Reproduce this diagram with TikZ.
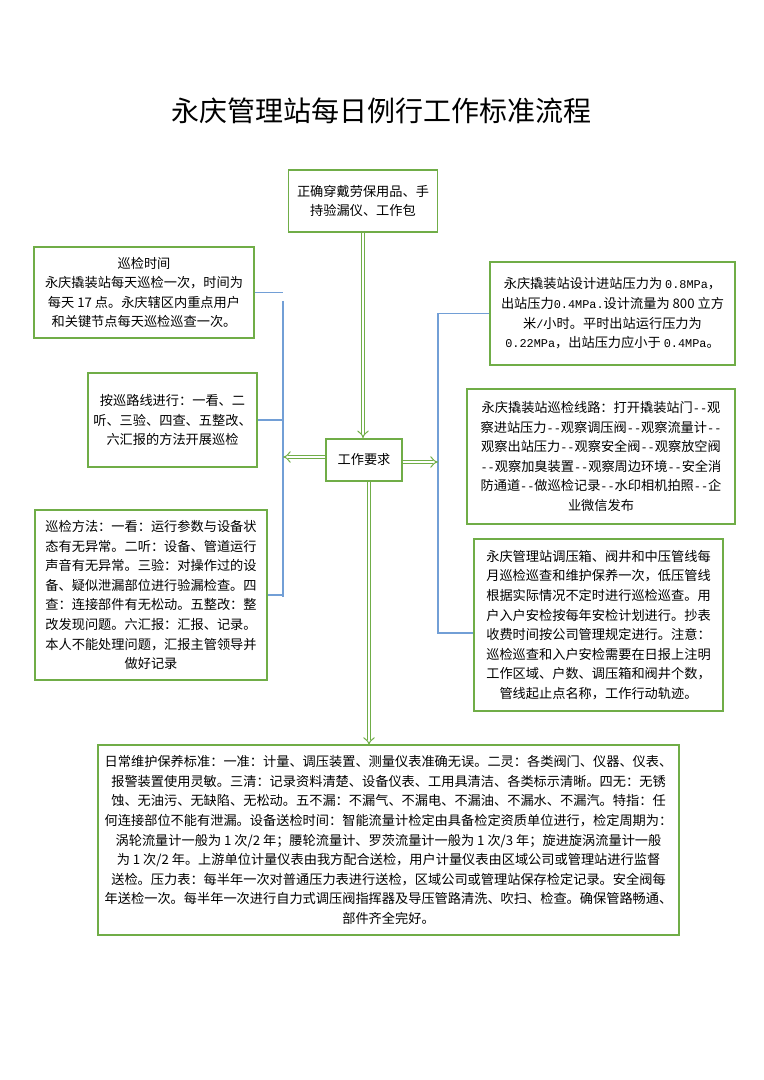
\documentclass[tikz,border=0pt]{standalone}
\usepackage{fontspec}
\setmainfont{Noto Sans CJK SC}
\newfontfamily\mono{Liberation Mono}[Scale=0.9]
\usetikzlibrary{arrows.meta}
\definecolor{bgreen}{RGB}{112,173,71}
\definecolor{lblue}{RGB}{114,159,214}
\newcommand{\dd}{{\mono -\kern0pt-}}
\begin{document}
\begin{tikzpicture}[x=0.75pt,y=-0.75pt,
  box/.style={draw=bgreen, line width=1.1pt, align=center, inner sep=0pt,
    font=\fontsize{9.9pt}{14.7pt}\selectfont},
  bx/.style 2 args={minimum width=#1*0.75pt, minimum height=#2*0.75pt},
  conn/.style={draw=lblue, line width=0.9pt},
  garrow/.style={draw=bgreen, double=white, line width=0.75pt, double distance=2.2pt, -{Implies[scale=1.35]}},
  titlefont/.style={font=\fontsize{21pt}{25pt}\selectfont, inner sep=0pt}]
\fill[white] (0,0) rectangle (763,1080);
\useasboundingbox (0,0) rectangle (763,1080);

\node[titlefont] (title) at (381,111) {永庆管理站每日例行工作标准流程};

\node[box, bx={149}{62}] (top) at (363,201) {正确穿戴劳保用品、手\\持验漏仪、工作包};
\node[box, bx={76}{42}] (req) at (364,460) {工作要求};

\node[box, bx={220}{91}] (L1) at (144,292.5) {巡检时间\\永庆撬装站每天巡检一次，时间为\\每天 17 点。永庆辖区内重点用户\\和关键节点每天巡检巡查一次。};
\node[box, bx={169}{94}] (L2) at (172.5,420) {按巡路线进行：一看、二\\听、三验、四查、五整改、\\六汇报的方法开展巡检};
\node[box, bx={232}{170}] (L3) at (151,595) {巡检方法：一看：运行参数与设备状\\态有无异常。二听：设备、管道运行\\声音有无异常。三验：对操作过的设\\备、疑似泄漏部位进行验漏检查。四\\查：连接部件有无松动。五整改：整\\改发现问题。六汇报：汇报、记录。\\本人不能处理问题，汇报主管领导并\\做好记录};

\node[box, bx={245}{103}] (R1) at (612.5,313.5) {永庆撬装站设计进站压力为 {\mono 0.8MPa}，\\出站压力{\mono 0.4MPa.}设计流量为 800 立方\\米{\mono /}小时。平时出站运行压力为\\{\mono 0.22MPa}，出站压力应小于 {\mono 0.4MPa}。};
\node[box, bx={268}{135}] (R2) at (601,456.5) {永庆撬装站巡检线路：打开撬装站门\dd 观\\察进站压力\dd 观察调压阀\dd 观察流量计\dd\\观察出站压力\dd 观察安全阀\dd 观察放空阀\\\dd 观察加臭装置\dd 观察周边环境\dd 安全消\\防通道\dd 做巡检记录\dd 水印相机拍照\dd 企\\业微信发布};
\node[box, bx={249}{172}] (R3) at (598.5,625) {永庆管理站调压箱、阀井和中压管线每\\月巡检巡查和维护保养一次，低压管线\\根据实际情况不定时进行巡检巡查。用\\户入户安检按每年安检计划进行。抄表\\收费时间按公司管理规定进行。注意：\\巡检巡查和入户安检需要在日报上注明\\工作区域、户数、调压箱和阀井个数，\\管线起止点名称，工作行动轨迹。};

\node[box, bx={581}{190}] (B) at (388.5,840) {日常维护保养标准：一准：计量、调压装置、测量仪表准确无误。二灵：各类阀门、仪器、仪表、\\报警装置使用灵敏。三清：记录资料清楚、设备仪表、工用具清洁、各类标示清晰。四无：无锈\\蚀、无油污、无缺陷、无松动。五不漏：不漏气、不漏电、不漏油、不漏水、不漏汽。特指：任\\何连接部位不能有泄漏。设备送检时间：智能流量计检定由具备检定资质单位进行，检定周期为：\\涡轮流量计一般为 1 次/2 年；腰轮流量计、罗茨流量计一般为 1 次/3 年；旋进旋涡流量计一般\\为 1 次/2 年。上游单位计量仪表由我方配合送检，用户计量仪表由区域公司或管理站进行监督\\送检。压力表：每半年一次对普通压力表进行送检，区域公司或管理站保存检定记录。安全阀每\\年送检一次。每半年一次进行自力式调压阀指挥器及导压管路清洗、吹扫、检查。确保管路畅通、\\部件齐全完好。};

% blue brackets
\coordinate (lv1) at (283,301);
\coordinate (lv2) at (283,597);
\draw[conn] (L1.east) -- (L1.east -| lv1);
\draw[conn] (lv1) -- (lv2);
\draw[conn] (L2.east) -- (L2.east -| lv1);
\draw[conn] (L3.east) -- (L3.east -| lv1);
\coordinate (rv1) at (438,313.5);
\coordinate (rv2) at (438,633);
\draw[conn] (R1.west) -- (rv1) -- (rv2) -- (R3.west |- rv2);

% green hollow arrows
\draw[garrow] (top.south) -- (top.south |- req.north);
\coordinate (la) at (283,457);
\draw[garrow] (req.west |- la) -- (la);
\coordinate (ra) at (438,462);
\draw[garrow] (req.east |- ra) -- (ra);
\coordinate (da) at (369,745);
\draw[garrow] (req.south -| da) -- (da);
\end{tikzpicture}
\end{document}
